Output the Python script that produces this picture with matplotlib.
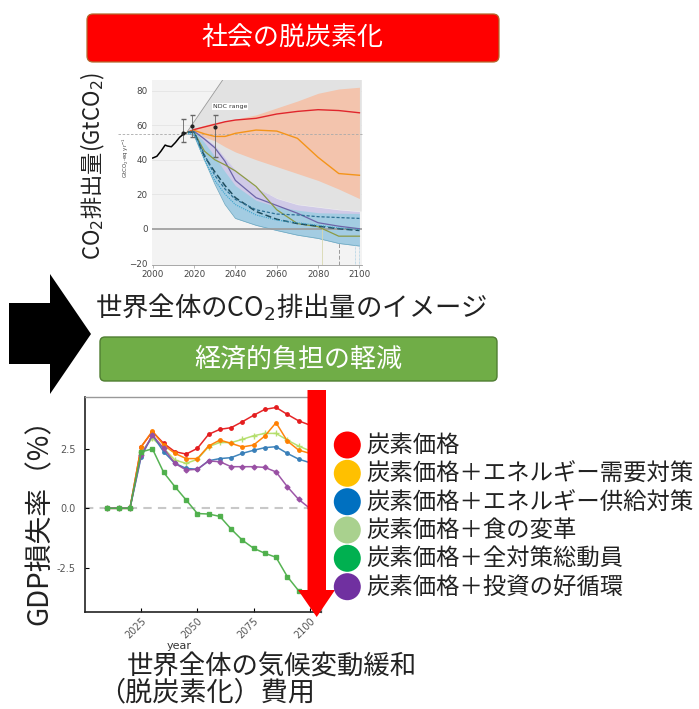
import matplotlib
matplotlib.use("Agg")
import matplotlib.pyplot as plt
from matplotlib.patches import FancyBboxPatch, Polygon, Circle
import numpy as np

plt.rcParams['font.family'] = ['Noto Sans CJK JP', 'DejaVu Sans']
plt.rcParams['mathtext.fontset'] = 'dejavusans'

# ---------------- Top chart data (IPCC-style emissions image) ----------------
hist_years = [2000, 2002, 2004, 2006, 2007, 2009, 2011, 2013, 2015, 2016]
hist_vals = [41.0, 42.0, 45.0, 48.5, 48.0, 47.5, 50.0, 53.0, 55.0, 55.5]

scen_years = [2017, 2020, 2025, 2030, 2035, 2040, 2050, 2060, 2070, 2080, 2090, 2100]
red_line = [56, 57.5, 59, 60.5, 62, 63, 64, 66.5, 68, 69, 68.5, 67.2]
orange_line = [56, 57, 55, 53.5, 53.5, 55.3, 57.2, 56.6, 52.4, 41.4, 32, 31]
orange_hi = [56, 58, 60, 61.5, 62.5, 63.5, 66, 70, 74, 78.5, 81, 82]
orange_lo = [55, 55, 53, 51, 47.5, 44.5, 40, 36, 32, 28, 23, 17.5]
purple_line = [56, 56.5, 52, 47, 39, 28, 18, 13.5, 9, 3.5, 1.5, 0]
olive_line = [56, 56, 45, 40, 37, 33.5, 24.5, 11, 3, 1.2, -4.3, -4.3]
teal_dash = [56, 56, 42, 33, 25, 18, 10, 5.5, 3, 1.5, 0, -1]
blue_dash = [56, 56, 43, 31, 23, 17, 11, 8.5, 8, 7, 6.5, 6]
cyan_dot = [55, 55, 40, 28, 20, 14, 8, 5, 3.5, 2, 0.5, -0.5]
purple_hi = [56, 57.5, 53, 48.5, 41, 34, 24, 17.6, 14, 12.5, 11, 10]
blue_hi = [56, 57, 50, 42, 33, 25, 16.5, 12.8, 10.8, 9.3, 9, 8.9]
blue_lo = [55, 54, 40, 26, 14, 6, 2, -1, -3.7, -5.6, -8.5, -10]
baseline_years = [2016, 2034]
baseline_vals = [55, 86.5]
err_years = [2014.5, 2019]
err_mid = [55.5, 59.5]
err_lo = [50.5, 53.4]
err_hi = [63.6, 65.9]
ndc_year = 2030
ndc_mid, ndc_lo, ndc_hi = 59.2, 41.7, 65.9
top_yticks = [-20, 0, 20, 40, 60, 80]
top_xticks = [2000, 2020, 2040, 2060, 2080, 2100]

# ---------------- Bottom chart data (GDP loss rate) ----------------
years = list(range(2010, 2101, 5))
gdp_red = [0, 0, 0, 2.59, 3.22, 2.73, 2.38, 2.28, 2.52, 3.11, 3.32, 3.39, 3.64, 3.91, 4.16, 4.24, 3.95, 3.68, 3.5]
gdp_orange = [0, 0, 0, 2.59, 3.25, 2.66, 2.31, 2.09, 2.09, 2.62, 2.87, 2.73, 2.58, 2.66, 3.04, 3.6, 2.83, 2.45, 2.31]
gdp_lgreen = [0, 0, 0, 2.38, 2.94, 2.52, 2.03, 1.89, 2.06, 2.59, 2.77, 2.76, 2.9, 3.05, 3.15, 3.15, 2.87, 2.62, 2.42]
gdp_blue = [0, 0, 0, 2.17, 3.08, 2.38, 1.89, 1.68, 1.64, 2.0, 2.09, 2.13, 2.31, 2.44, 2.55, 2.59, 2.31, 2.07, 1.92]
gdp_purple = [0, 0, 0, 2.24, 3.08, 2.52, 1.89, 1.61, 1.64, 1.99, 1.96, 1.75, 1.75, 1.75, 1.72, 1.53, 0.91, 0.38, 0.0]
gdp_green = [0, 0, 0, 2.37, 2.5, 1.51, 0.91, 0.35, -0.22, -0.24, -0.34, -0.87, -1.34, -1.68, -1.89, -2.06, -2.87, -3.46, -3.84]
gdp_yticks = [-2.5, 0.0, 2.5]
gdp_yticklabels = ['-2.5', '0.0', '2.5']
gdp_xticks = [2025, 2050, 2075, 2100]

legend_labels = ['炭素価格', '炭素価格＋エネルギー需要対策', '炭素価格＋エネルギー供給対策',
                 '炭素価格＋食の変革', '炭素価格＋全対策総動員', '炭素価格＋投資の好循環']
legend_colors = ['#ff0000', '#ffc000', '#0070c0', '#a9d18e', '#00b050', '#7030a0']

W, H = 699, 709
fig = plt.figure(figsize=(W / 100, H / 100), dpi=100)
fig.patch.set_facecolor('white')

def frac(x0, y0, x1, y1):
    return [x0 / W, 1 - y1 / H, (x1 - x0) / W, (y1 - y0) / H]

# ---------------- Top chart ----------------
ax1 = fig.add_axes(frac(151.7, 80, 361.7, 265))
ax1.set_facecolor('#f3f3f3')
ax1.set_xlim(1999.5, 2101.1)
ax1.set_ylim(-21, 86.2)
for v in [20, 40, 60, 80]:
    ax1.axhline(v, color='#e4e4e4', lw=0.6, zorder=0.5)
# grey cone (baseline region)
sy = np.array(scen_years, float)
gx = [baseline_years[0], baseline_years[1], 2101.1, 2101.1] + list(sy[::-1])
gy = [baseline_vals[0], baseline_vals[1], 86.5, purple_hi[-1]] + list(np.array(purple_hi)[::-1])
ax1.fill(gx, gy, color='#e2e2e2', lw=0, zorder=1)
ax1.plot(baseline_years, baseline_vals, color='#9a9a9a', lw=0.6, zorder=2)
ax1.fill_between(sy, orange_lo, orange_hi, color='#f3c4ad', lw=0, zorder=2)
ax1.fill_between(sy, blue_lo, purple_hi, color='#cdc6e6', alpha=0.9, lw=0, zorder=2.1)
ax1.fill_between(sy, blue_lo, blue_hi, color='#9ccde2', alpha=0.85, lw=0, zorder=2.2)
ax1.plot(sy, blue_lo, color='#6aa8bf', lw=0.5, zorder=2.3)
ax1.axhline(0, color='#9a9a9a', lw=1.2, zorder=2.5)
ax1.plot([1983, 2101.1], [55, 55], color='#aaaaaa', lw=0.6, ls=(0, (3, 2)), zorder=2.6, clip_on=False)
ax1.plot(sy, red_line, color='#e0262c', lw=1.0, zorder=4)
ax1.plot(sy, orange_line, color='#f39419', lw=1.0, zorder=4)
ax1.plot(sy, purple_line, color='#6c64a8', lw=0.9, zorder=4)
ax1.plot(sy, olive_line, color='#8c9a45', lw=0.9, zorder=4)
ax1.plot(sy, teal_dash, color='#1f4e5f', lw=1.1, ls=(0, (4, 2)), zorder=4)
ax1.plot(sy, blue_dash, color='#2b6f92', lw=0.9, ls=(0, (2.5, 1.5)), zorder=4)
ax1.plot(sy, cyan_dot, color='#3ba3cc', lw=0.8, ls=(0, (1, 1)), zorder=4)
ax1.plot(hist_years, hist_vals, color='black', lw=1.1, zorder=5)
ax1.vlines([2082], -21, 1, color='#d8d8b0', lw=0.6, zorder=3)
ax1.vlines([2090], -21, -8, color='#999999', lw=0.7, ls=(0, (4, 2)), zorder=3)
ax1.vlines([2098, 2100], -21, -9, color='#8fc3dd', lw=0.5, ls=(0, (1, 1)), zorder=3)
ax1.errorbar(err_years, err_mid,
             yerr=[np.subtract(err_mid, err_lo), np.subtract(err_hi, err_mid)],
             fmt='o', ms=2, color='#222222', ecolor='#666666', elinewidth=0.6, capsize=1.8, zorder=6)
ax1.errorbar([ndc_year], [ndc_mid], yerr=[[ndc_mid - ndc_lo], [ndc_hi - ndc_mid]],
             fmt='o', ms=2, color='#222222', ecolor='#666666', elinewidth=0.6, capsize=1.8, zorder=6)
ax1.text(2029, 71, 'NDC range', fontsize=4.5, family=['DejaVu Sans'], color='#333333',
         va='center', ha='left', zorder=7,
         bbox=dict(facecolor='white', edgecolor='none', pad=0.8))
for s in ['top', 'right', 'left']:
    ax1.spines[s].set_visible(False)
ax1.spines['bottom'].set_color('#999999')
ax1.spines['bottom'].set_linewidth(0.6)
ax1.set_yticks(top_yticks)
ax1.set_xticks(top_xticks)
ax1.tick_params(axis='y', length=0, pad=3, labelsize=6.3, labelcolor='#444444')
ax1.tick_params(axis='x', length=2, width=0.5, color='#999999', pad=1.5, labelsize=6.3, labelcolor='#444444')
for lab in ax1.get_xticklabels() + ax1.get_yticklabels():
    lab.set_family(['DejaVu Sans'])
ax1.text(-0.125, 0.58, 'GtCO$_2$-eq yr$^{-1}$', transform=ax1.transAxes, rotation=90,
         fontsize=4, family=['DejaVu Sans'], color='#444444', ha='center', va='center')

# ---------------- Bottom chart ----------------
ax2 = fig.add_axes(frac(85, 397, 321, 612))
ax2.set_xlim(2000, 2105)
ax2.set_ylim(-4.36, 4.68)
ax2.axhline(0, color='#c8c8c8', lw=1.5, ls=(0, (4, 3)), zorder=1)
series = [
    (gdp_red, '#e41a1c', 'o', 2.5),
    (gdp_lgreen, '#b3de69', '+', 4.5),
    (gdp_orange, '#ff7f00', 'o', 2.5),
    (gdp_blue, '#377eb8', 'o', 2.5),
    (gdp_purple, '#984ea3', 'D', 2.5),
    (gdp_green, '#4daf4a', 's', 2.8),
]
for vals, col, mk, ms in series:
    ax2.plot(years, vals, color=col, lw=1.1, marker=mk, ms=ms, mew=1.0, alpha=0.95, zorder=3)
ax2.set_xticks(gdp_xticks)
ax2.set_yticks(gdp_yticks)
ax2.set_yticklabels(gdp_yticklabels)
ax2.tick_params(direction='in', length=3, width=0.8, labelsize=7, labelcolor='#555555')
ax2.tick_params(axis='y', pad=7)
ax2.tick_params(axis='x', pad=3)
for lab in ax2.get_xticklabels():
    lab.set_rotation(45)
    lab.set_ha('right')
    lab.set_rotation_mode('anchor')
for lab in ax2.get_xticklabels() + ax2.get_yticklabels():
    lab.set_family(['DejaVu Sans'])
for s in ['left', 'bottom']:
    ax2.spines[s].set_color('#222222')
    ax2.spines[s].set_linewidth(1.2)
for s in ['top', 'right']:
    ax2.spines[s].set_color('#999999')
    ax2.spines[s].set_linewidth(1.0)
ax2.set_xlabel('year', fontsize=8, family=['DejaVu Sans'], color='#333333')
ax2.xaxis.set_label_coords(0.40, -0.135)

# ---------------- Overlay (pixel coordinates) ----------------
ov = fig.add_axes([0, 0, 1, 1], zorder=10)
ov.set_xlim(0, W)
ov.set_ylim(H, 0)
ov.axis('off')
ov.patch.set_visible(False)

ov.add_patch(FancyBboxPatch((87, 14), 412, 48, boxstyle='round,pad=0,rounding_size=6',
                            fc='#ff0000', ec='#b3692e', lw=0.9))
ov.text(292, 38.5, '社会の脱炭素化', color='white', fontsize=18.7, ha='center', va='center')

ov.add_patch(FancyBboxPatch((100, 337), 397, 44, boxstyle='round,pad=0,rounding_size=5',
                            fc='#70ad47', ec='#507e32', lw=1.0))
ov.text(298.5, 359, '経済的負担の軽減', color='white', fontsize=18.7, ha='center', va='center')

ov.add_patch(Polygon([(9, 303), (50, 303), (50, 274), (91, 334), (50, 394), (50, 364), (9, 364)],
                     closed=True, fc='black', ec='none'))

ov.add_patch(Polygon([(307.5, 390), (326, 390), (326, 590), (335, 590), (316.7, 617),
                      (298, 590), (307.5, 590)], closed=True, fc='#ff0000', ec='none'))

ov.text(93, 166, 'CO$_2$排出量(GtCO$_2$)', rotation=90, fontsize=16, ha='center', va='center',
        color='#222222')
ov.text(291, 307, '世界全体のCO$_2$排出量のイメージ', fontsize=19, ha='center', va='center',
        color='#222222')
ov.text(40, 515, 'GDP損失率（%）', rotation=90, fontsize=20, ha='center', va='center',
        color='#222222')

row_y = [445, 473.3, 501.7, 530, 558.3, 586.7]
for yy, lab, col in zip(row_y, legend_labels, legend_colors):
    ov.add_patch(Circle((347.3, yy), 13.5, fc=col, ec='none'))
    ov.text(366, yy + 0.5, lab, fontsize=16.8, ha='left', va='center', color='#222222')

ov.text(127, 667, '世界全体の気候変動緩和', fontsize=19, ha='left', va='center', color='#222222')
ov.text(98, 693, '（脱炭素化）費用', fontsize=19.5, ha='left', va='center', color='#222222')

fig.savefig('out.png', dpi=100, facecolor='white')
